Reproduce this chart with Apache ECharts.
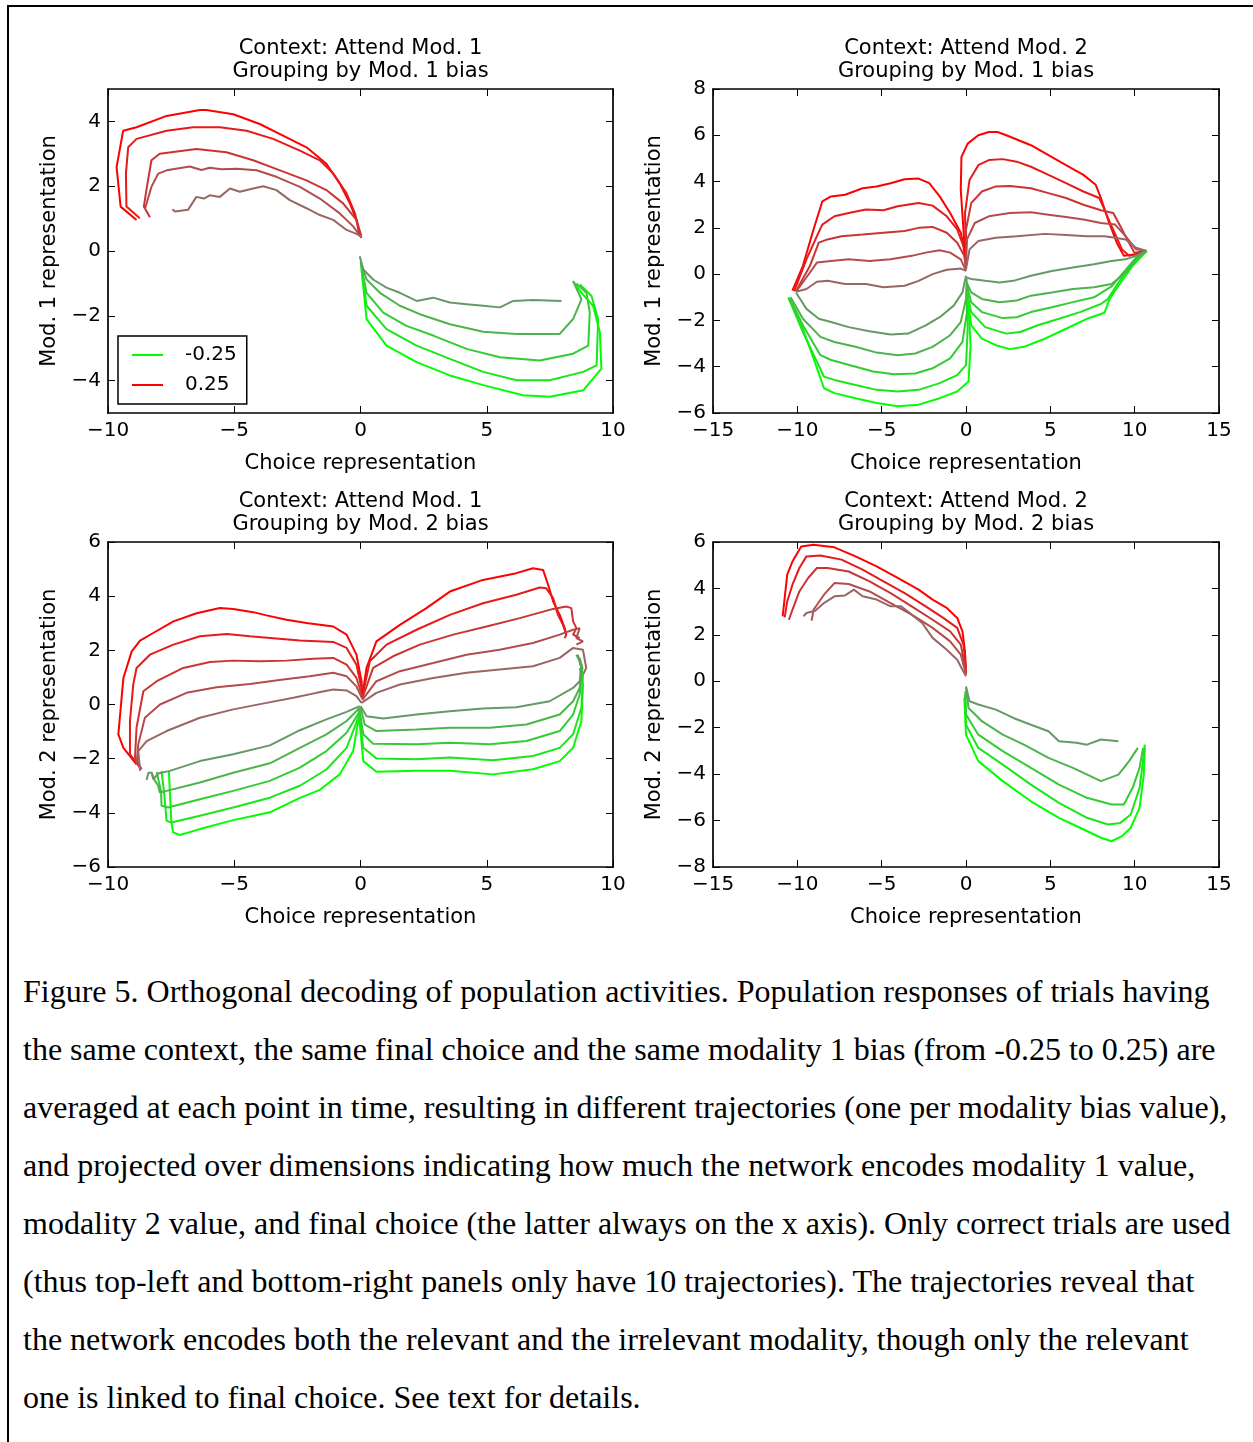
<!DOCTYPE html>
<html>
<head>
<meta charset="utf-8">
<script src="https://cdn.jsdelivr.net/npm/echarts@6/dist/echarts.min.js"></script>
<style>
html, body { margin: 0; padding: 0; background: #fff; }
#page { position: relative; width: 1253px; height: 1442px; overflow: hidden; background: #fff; }
#chart { position: absolute; left: 0; top: 0; width: 1253px; height: 940px; }
.bt { position: absolute; left: 7px; top: 5px; width: 1246px; height: 2px; background: #000; }
.bl { position: absolute; left: 7px; top: 5px; width: 2px; height: 1437px; background: #000; }
#caption { position: absolute; left: 23px; top: 962px; font-family: 'Liberation Serif', serif; font-size: 32px; line-height: 58px; color: #000; white-space: nowrap; }
</style>
</head>
<body>
<div id="page">
  <div class="bt"></div>
  <div class="bl"></div>
  <div id="chart"></div>
  <div id="caption">
    Figure 5. Orthogonal decoding of population activities. Population responses of trials having<br>
    the same context, the same final choice and the same modality 1 bias (from -0.25 to 0.25) are<br>
    averaged at each point in time, resulting in different trajectories (one per modality bias value),<br>
    and projected over dimensions indicating how much the network encodes modality 1 value,<br>
    modality 2 value, and final choice (the latter always on the x axis). Only correct trials are used<br>
    (thus top-left and bottom-right panels only have 10 trajectories). The trajectories reveal that<br>
    the network encodes both the relevant and the irrelevant modality, though only the relevant<br>
    one is linked to final choice. See text for details.
  </div>
</div>
<script>
// colours per bias, strongest (|bias| = 0.25) first
var RED = ['#ff0000', '#e61a1a', '#cc3333', '#b34d4d', '#996666'];
var GREEN = ['#00ff00', '#1ae61a', '#33cc33', '#4db34d', '#669966'];
var FONT = 'DejaVu Sans';

// ---- panel 1: attend mod 1, grouping by mod 1 bias ----
var p1Red = [
    [[-8.87,0.96],[-9.5,1.37],[-9.66,2.59],[-9.4,3.71],[-8.87,3.82],[-7.68,4.17],[-6.36,4.35],[-6.1,4.35],[-5.04,4.22],[-3.99,3.92],[-2.93,3.51],[-2.14,3.2],[-1.35,2.69],[-0.82,2.08],[-0.42,1.47],[-0.16,0.96],[-0.03,0.45]],
    [[-8.74,1.01],[-9.27,1.37],[-9.29,2.39],[-9.2,3.2],[-8.87,3.46],[-7.68,3.71],[-6.63,3.82],[-5.57,3.82],[-4.51,3.71],[-3.46,3.46],[-2.4,3.1],[-1.61,2.8],[-1.08,2.39],[-0.55,1.78],[-0.22,1.16],[-0.03,0.55]],
    [[-8.34,1.04],[-8.58,1.37],[-8.48,1.88],[-8.28,2.8],[-7.95,3.0],[-6.5,3.15],[-5.31,3.05],[-4.25,2.8],[-3.19,2.49],[-2.14,2.18],[-1.35,1.88],[-0.69,1.47],[-0.16,0.96],[0.04,0.45]],
    [[-8.54,1.29],[-8.28,1.98],[-8.01,2.39],[-7.68,2.49],[-6.76,2.61],[-6.3,2.5],[-5.97,2.57],[-5.5,2.52],[-4.91,2.54],[-4.12,2.49],[-3.33,2.29],[-2.4,1.98],[-1.61,1.62],[-0.82,1.16],[-0.29,0.76],[0.04,0.4]],
    [[-7.45,1.29],[-7.35,1.22],[-6.83,1.27],[-6.5,1.67],[-6.2,1.62],[-5.97,1.72],[-5.57,1.67],[-5.17,1.93],[-4.78,1.83],[-4.25,1.93],[-3.85,2.0],[-3.33,1.88],[-2.8,1.57],[-2.14,1.32],[-1.61,1.11],[-1.08,0.96],[-0.55,0.65],[-0.16,0.53],[0.04,0.45]]
];
var p1Green = [
    [[0.04,-0.57],[0.24,-2.1],[1.03,-2.92],[2.22,-3.43],[3.54,-3.84],[4.86,-4.14],[6.44,-4.45],[7.5,-4.5],[8.82,-4.3],[9.21,-3.94],[9.54,-3.63],[9.48,-2.51],[9.21,-1.69],[8.75,-1.29],[8.42,-0.93]],
    [[0.03,-0.47],[0.24,-1.69],[1.03,-2.41],[2.22,-2.92],[3.54,-3.33],[4.86,-3.73],[6.18,-3.99],[7.5,-3.99],[8.82,-3.73],[9.35,-3.53],[9.41,-2.1],[9.15,-1.39],[8.69,-1.03]],
    [[0.01,-0.37],[0.24,-1.29],[0.9,-1.9],[1.82,-2.31],[2.88,-2.61],[4.2,-3.02],[5.52,-3.28],[7.1,-3.38],[8.42,-3.17],[9.02,-2.92],[9.08,-1.9],[8.95,-1.29],[8.55,-1.0]],
    [[0,-0.32],[0.24,-0.88],[0.77,-1.29],[1.56,-1.69],[2.35,-1.95],[3.54,-2.26],[4.86,-2.49],[6.18,-2.56],[7.89,-2.56],[8.42,-2.1],[8.75,-1.49],[8.42,-0.93]],
    [[-0.03,-0.16],[0.11,-0.57],[0.5,-0.88],[1.03,-1.13],[1.56,-1.29],[2.22,-1.54],[2.88,-1.44],[3.54,-1.59],[4.2,-1.64],[4.86,-1.69],[5.52,-1.74],[6.05,-1.54],[6.84,-1.51],[7.96,-1.54]]
];

// ---- panel 2: attend mod 2, grouping by mod 1 bias ----
var p2RedLeft = [
    [[-10.29,-0.71],[-9.67,0.36],[-9.04,1.93],[-8.52,3.14],[-8.0,3.36],[-7.17,3.43],[-6.13,3.71],[-5.3,3.79],[-4.47,3.93],[-3.64,4.1],[-2.81,4.13],[-2.18,3.93],[-1.56,3.36],[-0.94,2.64],[-0.31,1.79],[-0.06,0.93]],
    [[-10.19,-0.74],[-9.46,0.64],[-8.84,1.64],[-8.52,2.14],[-7.8,2.5],[-6.96,2.64],[-5.93,2.79],[-4.89,2.76],[-4.05,2.93],[-2.81,3.07],[-1.98,2.96],[-1.14,2.5],[-0.52,1.93],[-0.15,1.21],[0,0.36]],
    [[-10.08,-0.74],[-9.25,0.36],[-8.73,1.36],[-8.21,1.5],[-7.38,1.64],[-6.13,1.71],[-4.89,1.79],[-3.64,1.86],[-2.81,2.0],[-1.98,2.04],[-1.14,1.79],[-0.52,1.36],[-0.1,0.79],[0,0.21]],
    [[-10.08,-0.76],[-9.25,0.07],[-8.84,0.5],[-8.0,0.57],[-6.96,0.64],[-5.72,0.57],[-4.47,0.64],[-3.22,0.79],[-2.39,0.93],[-1.56,1.03],[-0.94,0.93],[-0.31,0.64],[0,0.14]],
    [[-10.08,-0.76],[-9.46,-0.64],[-8.84,-0.33],[-8.21,-0.29],[-7.17,-0.43],[-5.93,-0.43],[-4.89,-0.57],[-3.64,-0.5],[-2.81,-0.29],[-1.98,0],[-1.14,0.19],[-0.31,0.24],[0,0.14]]
];
var p2RedRight = [
    [[-0.06,0.93],[-0.31,3.64],[-0.27,5.07],[0.1,5.64],[0.73,6.0],[1.35,6.14],[1.87,6.14],[2.39,6.0],[3.85,5.57],[4.89,5.14],[5.93,4.71],[6.96,4.29],[7.69,3.86],[8.0,3.29],[8.42,2.36],[8.94,1.36],[9.36,0.79],[10.08,0.86],[10.71,1.0]],
    [[0,0.64],[-0.06,2.64],[0.21,4.07],[0.73,4.71],[1.35,4.93],[2.18,4.97],[3.01,4.86],[3.85,4.64],[4.89,4.29],[5.93,3.93],[6.96,3.57],[7.9,3.29],[8.21,2.79],[8.63,2.07],[9.25,1.07],[9.67,0.79],[10.29,0.9],[10.71,1.0]],
    [[0,0.43],[0,1.93],[0.31,3.07],[0.94,3.57],[1.77,3.79],[2.6,3.81],[3.85,3.71],[4.89,3.5],[5.93,3.29],[6.96,3.0],[8.0,2.76],[8.73,2.64],[9.15,2.07],[9.56,1.5],[9.98,0.93],[10.71,1.0]],
    [[0,0.29],[0.06,1.5],[0.52,2.21],[1.35,2.5],[2.6,2.64],[3.85,2.67],[4.89,2.57],[5.93,2.47],[6.96,2.36],[8.0,2.21],[8.84,2.14],[9.46,1.64],[10.08,1.07],[10.71,1.0]],
    [[0,0.21],[0.21,1.07],[0.73,1.43],[1.77,1.57],[3.01,1.64],[4.68,1.74],[5.93,1.69],[7.17,1.64],[8.21,1.64],[8.84,1.57],[9.46,1.5],[10.08,1.14],[10.71,1.0]]
];
var p2GreenLeft = [
    [[-10.54,-1.0],[-9.88,-1.93],[-9.04,-3.64],[-8.42,-4.93],[-7.8,-5.14],[-6.55,-5.36],[-5.3,-5.57],[-4.05,-5.71],[-2.81,-5.64],[-1.56,-5.36],[-0.52,-5.07],[0.15,-4.64],[0.27,-3.07],[0.15,-1.36],[0.06,-0.64]],
    [[-10.5,-1.07],[-9.67,-2.5],[-8.42,-4.43],[-7.8,-4.57],[-6.55,-4.79],[-5.3,-5.0],[-4.05,-5.07],[-2.81,-5.0],[-1.56,-4.71],[-0.52,-4.36],[0,-3.93],[0.1,-2.36],[0.06,-0.5]],
    [[-10.46,-1.04],[-9.67,-2.21],[-8.63,-3.5],[-8.0,-3.71],[-6.76,-3.96],[-5.51,-4.21],[-4.26,-4.33],[-3.01,-4.29],[-1.98,-4.07],[-0.94,-3.64],[-0.21,-2.93],[0.06,-1.64],[0.06,-0.36]],
    [[-10.4,-1.0],[-9.67,-1.93],[-8.63,-2.71],[-7.8,-2.93],[-6.55,-3.14],[-5.3,-3.39],[-4.05,-3.5],[-3.01,-3.43],[-1.98,-3.14],[-0.94,-2.64],[-0.31,-2.07],[0,-1.07],[0.04,-0.21]],
    [[-10.08,-0.79],[-9.46,-1.5],[-8.73,-1.93],[-8.0,-2.07],[-6.96,-2.29],[-5.72,-2.47],[-4.47,-2.61],[-3.43,-2.57],[-2.39,-2.21],[-1.56,-1.86],[-0.73,-1.36],[-0.21,-0.79],[0,-0.07]]
];
var p2GreenRight = [
    [[0.1,-1.07],[0.31,-2.21],[0.94,-2.79],[1.77,-3.07],[2.6,-3.24],[3.43,-3.14],[4.68,-2.79],[5.93,-2.36],[7.17,-1.93],[8.21,-1.67],[8.52,-1.07],[9.04,-0.5],[9.88,0.36],[10.71,1.0]],
    [[0.06,-0.79],[0.31,-1.64],[1.14,-2.29],[2.39,-2.57],[3.22,-2.5],[4.26,-2.21],[5.51,-1.93],[6.76,-1.64],[8.0,-1.29],[8.42,-1.07],[9.04,-0.36],[9.88,0.5],[10.71,1.0]],
    [[0.06,-0.5],[0.31,-1.21],[0.94,-1.64],[2.18,-1.9],[3.01,-1.86],[3.85,-1.64],[5.09,-1.43],[6.34,-1.21],[7.59,-1.0],[8.63,-0.53],[9.25,0],[10.08,0.71],[10.71,1.0]],
    [[0.04,-0.36],[0.31,-0.79],[0.94,-1.07],[1.98,-1.21],[3.01,-1.14],[3.85,-0.93],[5.09,-0.79],[6.34,-0.64],[7.59,-0.57],[8.63,-0.43],[9.46,0.07],[10.08,0.64],[10.71,1.0]],
    [[0,-0.14],[0.31,-0.21],[1.14,-0.29],[1.98,-0.36],[2.81,-0.29],[3.85,-0.07],[5.09,0.14],[6.34,0.29],[7.59,0.43],[8.63,0.57],[9.46,0.64],[10.08,0.79],[10.71,1.0]]
];

// ---- panel 3: attend mod 1, grouping by mod 2 bias ----
var p3RedLeft = [
    [[-8.87,-2.21],[-9.39,-1.6],[-9.59,-1.1],[-9.39,0.98],[-9.06,1.96],[-8.73,2.36],[-8.21,2.64],[-7.41,3.07],[-6.49,3.37],[-5.57,3.56],[-5.04,3.53],[-4.25,3.41],[-3.72,3.29],[-2.93,3.13],[-2.14,3.01],[-1.08,2.88],[-0.55,2.58],[-0.16,1.84],[0.04,0.86],[0.08,0.25]],
    [[-8.73,-2.33],[-9.13,-1.84],[-9.13,-0.61],[-9.0,0.74],[-8.87,1.35],[-8.34,1.84],[-7.41,2.21],[-6.36,2.52],[-5.3,2.6],[-4.38,2.52],[-3.46,2.45],[-2.4,2.36],[-1.08,2.31],[-0.55,2.09],[-0.16,1.47],[0.04,0.61],[0.08,0.18]],
    [[-8.67,-2.39],[-8.93,-1.96],[-8.87,-0.86],[-8.6,0.49],[-8.07,0.86],[-7.02,1.35],[-5.96,1.57],[-5.04,1.62],[-3.98,1.6],[-2.93,1.62],[-1.87,1.69],[-1.08,1.72],[-0.55,1.47],[-0.16,0.98],[0.05,0.37]],
    [[-8.87,-2.21],[-8.8,-1.47],[-8.54,-0.49],[-7.94,0],[-6.89,0.43],[-5.7,0.64],[-4.38,0.76],[-3.06,0.92],[-2.01,1.04],[-1.08,1.17],[-0.55,1.04],[-0.16,0.67],[0.05,0.25]],
    [[-8.73,-2.45],[-8.8,-1.72],[-8.47,-1.35],[-7.68,-0.98],[-6.36,-0.49],[-5.04,-0.18],[-3.72,0.06],[-2.66,0.25],[-1.74,0.43],[-1.08,0.55],[-0.55,0.52],[-0.16,0.31],[0.04,0.06]]
];
var p3RedRight = [
    [[0.08,0.37],[0.24,1.35],[0.63,2.33],[1.56,2.94],[2.61,3.56],[3.54,4.17],[4.85,4.6],[6.17,4.85],[6.83,5.03],[7.23,4.97],[7.43,4.42],[7.63,3.8],[7.89,3.31],[8.09,2.82],[8.15,2.58]],
    [[0.08,0.31],[0.37,1.6],[1.03,2.21],[2.22,2.76],[3.54,3.31],[4.85,3.74],[6.17,4.05],[7.1,4.32],[7.36,4.29],[7.63,3.93],[7.82,3.31],[8.02,2.94],[8.15,2.58],[8.09,2.45]],
    [[0.08,0.25],[0.5,1.35],[1.29,1.78],[2.35,2.21],[3.67,2.58],[4.99,2.88],[6.31,3.19],[7.63,3.53],[8.15,3.62],[8.35,3.56],[8.42,3.07],[8.55,2.82],[8.42,2.58],[8.68,2.45]],
    [[0.08,0.18],[0.63,0.86],[1.56,1.23],[2.88,1.53],[4.2,1.84],[5.51,2.02],[6.83,2.27],[7.89,2.58],[8.42,2.76],[8.68,2.82],[8.55,2.45],[8.81,2.33],[8.55,2.21]],
    [[0.04,0.06],[0.63,0.43],[1.56,0.74],[2.88,0.98],[4.2,1.17],[5.51,1.29],[6.83,1.41],[7.89,1.72],[8.42,2.09],[8.81,2.02],[8.94,1.35],[8.75,0.98]]
];
var p3GreenLeft = [
    [[-7.59,-2.45],[-7.55,-3.2],[-7.49,-4.36],[-7.42,-4.72],[-7.15,-4.82],[-6.36,-4.6],[-5.04,-4.27],[-3.59,-3.98],[-2.4,-3.45],[-1.61,-3.15],[-0.82,-2.58],[-0.29,-1.72],[-0.09,-0.61],[-0.03,-0.12]],
    [[-7.88,-2.45],[-7.78,-3.25],[-7.68,-4.29],[-7.49,-4.36],[-6.36,-4.11],[-5.04,-3.8],[-3.59,-3.44],[-2.4,-3.0],[-1.35,-2.4],[-0.55,-1.6],[-0.09,-0.49],[-0.03,-0.12]],
    [[-8.07,-2.49],[-8.01,-2.76],[-7.9,-3.2],[-7.88,-3.74],[-7.62,-3.8],[-6.36,-3.5],[-5.04,-3.19],[-3.59,-2.82],[-2.4,-2.33],[-1.35,-1.72],[-0.55,-1.04],[-0.03,-0.25]],
    [[-8.27,-2.52],[-8.14,-2.82],[-8.01,-3.0],[-7.95,-3.25],[-7.68,-3.19],[-6.36,-2.88],[-5.04,-2.52],[-3.59,-2.17],[-2.4,-1.6],[-1.35,-1.1],[-0.55,-0.61],[-0.03,-0.12]],
    [[-8.47,-2.79],[-8.4,-2.52],[-8.27,-2.52],[-8.21,-2.76],[-8.01,-2.55],[-7.55,-2.45],[-6.36,-2.09],[-5.04,-1.84],[-3.59,-1.51],[-2.4,-0.95],[-1.35,-0.55],[-0.55,-0.27],[-0.03,-0.06]]
];
var p3GreenRight = [
    [[-0.05,-0.49],[0.11,-2.09],[0.63,-2.48],[2.22,-2.45],[3.54,-2.45],[5.25,-2.58],[6.83,-2.39],[7.89,-2.09],[8.42,-1.6],[8.75,-0.61],[8.81,0.74],[8.68,1.35]],
    [[-0.05,-0.37],[0.11,-1.6],[0.63,-1.99],[2.22,-2.02],[3.54,-1.96],[5.25,-2.06],[6.83,-1.9],[7.89,-1.6],[8.42,-1.1],[8.75,-0.12],[8.81,1.1],[8.68,1.6]],
    [[-0.03,-0.25],[0.11,-1.1],[0.5,-1.45],[2.22,-1.47],[3.54,-1.41],[5.12,-1.47],[6.57,-1.35],[7.89,-0.98],[8.42,-0.37],[8.68,0.37],[8.79,1.35],[8.68,1.72]],
    [[0,-0.12],[0.17,-0.74],[0.63,-0.98],[2.22,-0.92],[3.54,-0.86],[5.12,-0.86],[6.57,-0.74],[7.89,-0.37],[8.42,0.12],[8.68,0.61],[8.75,1.47],[8.55,1.84]],
    [[0,-0.06],[0.24,-0.43],[0.9,-0.52],[2.22,-0.37],[3.54,-0.25],[4.85,-0.15],[6.17,-0.1],[7.49,0.12],[8.42,0.61],[8.68,0.86],[8.75,1.35],[8.61,1.84]]
];

// ---- panel 4: attend mod 2, grouping by mod 2 bias ----
var p4Red = [
    [[-10.87,2.8],[-10.75,3.59],[-10.6,4.59],[-10.29,5.16],[-9.77,5.81],[-9.04,5.88],[-7.8,5.77],[-6.55,5.38],[-5.3,4.95],[-4.05,4.45],[-2.81,3.95],[-1.98,3.52],[-1.14,3.16],[-0.52,2.73],[-0.21,2.15],[-0.06,1.29],[0,0.29]],
    [[-10.75,2.75],[-10.6,3.44],[-10.29,4.16],[-9.88,4.88],[-9.46,5.38],[-8.63,5.42],[-7.38,5.24],[-6.13,4.81],[-4.89,4.3],[-3.64,3.8],[-2.39,3.23],[-1.35,2.73],[-0.52,2.3],[-0.15,1.58],[0,0.57]],
    [[-10.5,2.65],[-10.29,3.08],[-9.88,3.87],[-9.36,4.45],[-8.84,4.88],[-8.21,4.88],[-6.96,4.73],[-5.72,4.3],[-4.47,3.8],[-3.22,3.23],[-1.98,2.65],[-0.94,2.15],[-0.31,1.58],[0,0.43]],
    [[-9.15,2.61],[-9.04,3.08],[-8.42,3.73],[-7.8,4.23],[-6.96,4.19],[-5.72,3.87],[-4.47,3.37],[-3.22,2.87],[-1.98,2.3],[-0.94,1.72],[-0.31,1.15],[0,0.29]],
    [[-9.63,2.8],[-9.46,2.94],[-8.94,3.04],[-8.42,3.37],[-7.8,3.66],[-7.17,3.7],[-6.65,3.95],[-6.13,3.66],[-5.3,3.52],[-4.47,3.23],[-3.85,3.23],[-3.22,2.87],[-2.6,2.51],[-1.98,1.87],[-1.14,1.36],[-0.52,0.93],[-0.21,0.5],[0,0.22]]
];
var p4Green = [
    [[-0.1,-0.72],[0,-2.3],[0.73,-3.44],[2.18,-4.3],[3.85,-5.17],[5.51,-5.88],[6.76,-6.31],[8.0,-6.74],[8.63,-6.89],[9.25,-6.67],[9.77,-6.31],[10.29,-5.45],[10.54,-4.02],[10.6,-2.87]],
    [[-0.06,-0.57],[0,-1.87],[0.73,-2.87],[2.18,-3.59],[3.85,-4.45],[5.51,-5.24],[7.17,-5.88],[8.42,-6.17],[9.15,-6.1],[9.77,-5.74],[10.29,-4.59],[10.54,-3.16],[10.6,-2.73]],
    [[-0.04,-0.43],[0,-1.43],[0.73,-2.3],[2.18,-3.01],[3.85,-3.73],[5.51,-4.45],[7.17,-5.02],[8.63,-5.31],[9.36,-5.31],[9.88,-4.59],[10.29,-3.73],[10.5,-2.87]],
    [[0,-0.29],[0.15,-1.15],[0.94,-1.72],[2.18,-2.3],[3.43,-2.73],[4.89,-3.3],[6.34,-3.73],[8.0,-4.3],[9.04,-4.02],[9.67,-3.44],[10.19,-2.87]],
    [[0,-0.22],[0.21,-0.86],[0.73,-1.0],[1.77,-1.22],[2.81,-1.58],[3.85,-1.87],[4.89,-2.15],[5.51,-2.58],[6.55,-2.65],[7.17,-2.73],[8.0,-2.51],[9.04,-2.58]]
];

// axis ranges and texts
var panelTitles = [
    'Context: Attend Mod. 1\nGrouping by Mod. 1 bias',
    'Context: Attend Mod. 2\nGrouping by Mod. 1 bias',
    'Context: Attend Mod. 1\nGrouping by Mod. 2 bias',
    'Context: Attend Mod. 2\nGrouping by Mod. 2 bias'
];
var yNames = ['Mod. 1 representation', 'Mod. 1 representation', 'Mod. 2 representation', 'Mod. 2 representation'];
var xRanges = [[-10, 10], [-15, 15], [-10, 10], [-15, 15]];
var yRanges = [[-5, 5], [-6, 8], [-6, 6], [-8, 6]];
var yTicks = [[-4, -2, 0, 2, 4], [-6, -4, -2, 0, 2, 4, 6, 8], [-6, -4, -2, 0, 2, 4, 6], [-8, -6, -4, -2, 0, 2, 4, 6]];

var grids = [
    { left: 108, top: 89, width: 505, height: 324 },
    { left: 713, top: 89, width: 506, height: 324 },
    { left: 108, top: 542, width: 505, height: 325 },
    { left: 713, top: 542, width: 506, height: 325 }
];

function extend(a, b) {
    for (var k in b) { a[k] = b[k]; }
    return a;
}

function fmt(v) {
    return v < 0 ? '\u2212' + Math.abs(v) : String(v);
}

var xAxes = [], yAxes = [], series = [], graphics = [];

grids.forEach(function (g, i) {
    var line = { show: true, onZero: false, lineStyle: { color: '#000', width: 1.7 } };
    var tick = { show: true, inside: true, length: 7, lineStyle: { color: '#000', width: 1 } };
    var label = { show: true, color: '#000', fontSize: 20, fontFamily: FONT, formatter: fmt, showMinLabel: true, showMaxLabel: true };
    var nameStyle = { color: '#000', fontSize: 21, fontFamily: FONT };
    var xr = xRanges[i], yr = yRanges[i];
    xAxes.push({
        type: 'value', gridIndex: i, position: 'bottom', min: xr[0], max: xr[1], interval: 5,
        name: 'Choice representation', nameLocation: 'middle', nameGap: 40,
        nameTextStyle: nameStyle,
        axisLine: line, axisTick: tick, splitLine: { show: false },
        axisLabel: extend({ margin: 8 }, label)
    });
    xAxes.push({
        type: 'value', gridIndex: i, position: 'top', min: xr[0], max: xr[1], interval: 5,
        axisLine: line, axisTick: tick, splitLine: { show: false }, axisLabel: { show: false }
    });
    yAxes.push({
        type: 'value', gridIndex: i, position: 'left', min: yr[0], max: yr[1],
        name: yNames[i], nameLocation: 'middle', nameRotate: 90, nameGap: 48,
        nameTextStyle: nameStyle,
        axisLine: line, splitLine: { show: false },
        axisTick: extend({ customValues: yTicks[i] }, tick),
        axisLabel: extend({ margin: 7, customValues: yTicks[i] }, label)
    });
    yAxes.push({
        type: 'value', gridIndex: i, position: 'right', min: yr[0], max: yr[1],
        axisLine: line, splitLine: { show: false },
        axisTick: extend({ customValues: yTicks[i] }, tick),
        axisLabel: { show: false }
    });
    graphics.push({
        type: 'text', x: g.left + g.width / 2, y: g.top - 52, silent: true,
        style: { text: panelTitles[i], textAlign: 'center', textVerticalAlign: 'top', fill: '#000', font: '21px "DejaVu Sans"', lineHeight: 23 }
    });
});

function addTraj(list, colors, gi, names) {
    list.forEach(function (pts, i) {
        series.push({
            type: 'line', name: (names && names[i]) ? names[i] : ('p' + gi + '_' + series.length),
            xAxisIndex: gi * 2, yAxisIndex: gi * 2, data: pts,
            symbol: 'none', showSymbol: false, silent: true, animation: false,
            lineStyle: { color: colors[i], width: 2 }, itemStyle: { color: colors[i] }
        });
    });
}

addTraj(p1Red, RED, 0, ['0.25']);
addTraj(p1Green, GREEN, 0, ['-0.25']);
addTraj(p2RedLeft, RED, 1);
addTraj(p2RedRight, RED, 1);
addTraj(p2GreenLeft, GREEN, 1);
addTraj(p2GreenRight, GREEN, 1);
addTraj(p3RedLeft, RED, 2);
addTraj(p3RedRight, RED, 2);
addTraj(p3GreenLeft, GREEN, 2);
addTraj(p3GreenRight, GREEN, 2);
addTraj(p4Red, RED, 3);
addTraj(p4Green, GREEN, 3);

var chart = echarts.init(document.getElementById('chart'), null, { renderer: 'canvas' });
chart.setOption({
    backgroundColor: 'transparent',
    animation: false,
    textStyle: { fontFamily: FONT },
    grid: grids,
    xAxis: xAxes,
    yAxis: yAxes,
    series: series,
    graphic: graphics,
    legend: {
        data: ['-0.25', '0.25'], orient: 'vertical', left: 118, top: 336,
        icon: 'rect', itemWidth: 31, itemHeight: 2, itemGap: 10,
        padding: [9, 10, 9, 14], borderColor: '#000', borderWidth: 1.5, backgroundColor: '#fff',
        selectedMode: false,
        textStyle: { color: '#000', fontSize: 20, fontFamily: FONT, padding: [0, 0, 0, 17] }
    }
});
</script>
</body>
</html>
